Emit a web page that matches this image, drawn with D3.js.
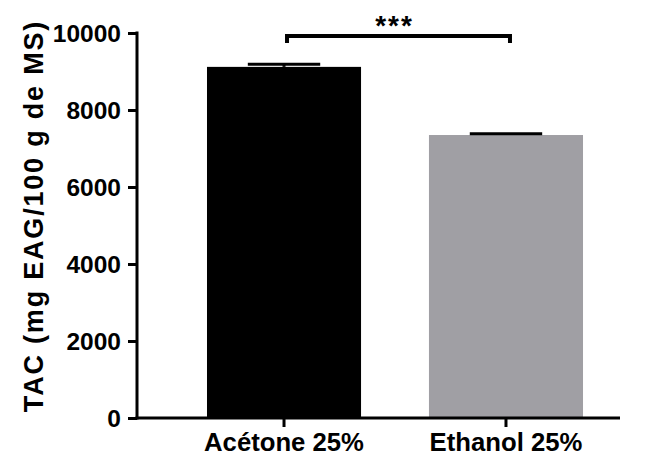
<!DOCTYPE html>
<html>
<head>
<meta charset="utf-8">
<script src="https://cdn.jsdelivr.net/npm/d3@7"></script>
<style>
  body { margin: 0; background: white; }
  text { font-family: "Liberation Sans", Arial, sans-serif; font-weight: bold; }
</style>
</head>
<body>
<script>
// data
var categories = ["Acétone 25%", "Ethanol 25%"];
var means = [9120, 7350];
var errors = [70, 30];
var colors = ["#000000", "#a09fa4"];
var yTicks = [0, 2000, 4000, 6000, 8000, 10000];
var signif = "***";

var width = 645, height = 466;
var margin = {top: 33, right: 25, bottom: 48, left: 137};

var svg = d3.select("body").append("svg")
  .attr("width", width)
  .attr("height", height);

var x = d3.scaleBand()
  .domain(categories)
  .range([162.6, 627.4])
  .paddingInner(0.306)
  .paddingOuter(0.2);

var y = d3.scaleLinear()
  .domain([0, 10000])
  .range([height - margin.bottom, margin.top]);

// bars
svg.selectAll("rect.bar")
  .data(categories)
  .enter().append("rect")
  .attr("class", "bar")
  .attr("x", function (d) { return x(d); })
  .attr("width", x.bandwidth())
  .attr("y", function (d, i) { return y(means[i]); })
  .attr("height", function (d, i) { return y(0) - y(means[i]); })
  .style("fill", function (d, i) { return colors[i]; });

// error bars (upper only)
var capW = x.bandwidth() * 0.47;
categories.forEach(function (c, i) {
  var cx = x(c) + x.bandwidth() / 2;
  svg.append("line")
    .attr("x1", cx).attr("x2", cx)
    .attr("y1", y(means[i])).attr("y2", y(means[i] + errors[i]))
    .style("stroke", "black").style("stroke-width", 3);
  svg.append("line")
    .attr("x1", cx - capW / 2).attr("x2", cx + capW / 2)
    .attr("y1", y(means[i] + errors[i])).attr("y2", y(means[i] + errors[i]))
    .style("stroke", "black").style("stroke-width", 3);
});

// axes
var yAxis = d3.axisLeft(y).tickValues(yTicks).tickSize(9).tickPadding(7).tickFormat(d3.format("d"));
var gy = svg.append("g")
  .attr("transform", "translate(" + margin.left + ",0)")
  .call(yAxis);
gy.select(".domain").attr("d", "M0," + (y(10000) - 1.5) + "V" + (y(0) + 1.5));

var xAxis = d3.axisBottom(x).tickSize(9).tickPadding(6);
var gx = svg.append("g")
  .attr("transform", "translate(0," + y(0) + ")")
  .call(xAxis);
gx.select(".domain").attr("d", "M" + (margin.left - 1.5) + ",0H" + (width - margin.right));

svg.selectAll(".domain, .tick line")
  .style("stroke", "black")
  .style("stroke-width", 3);
svg.selectAll(".tick text")
  .style("fill", "black");
gy.selectAll(".tick text").style("font-size", "24.5px").attr("dy", "0.36em");
gx.selectAll(".tick text").style("font-size", "25.7px");

// y axis title
svg.append("text")
  .attr("transform", "translate(43,216) rotate(-90)")
  .attr("text-anchor", "middle")
  .style("font-size", "27px")
  .style("letter-spacing", "1.8px")
  .text("TAC (mg EAG/100 g de MS)");

// significance bracket
var bx1 = x(categories[0]) + x.bandwidth() / 2 + 3;
var bx2 = x(categories[1]) + x.bandwidth() / 2 + 4;
var by = 36;
svg.append("path")
  .attr("d", "M" + bx1 + "," + (by + 7) + "V" + by + "H" + bx2 + "V" + (by + 7))
  .style("fill", "none")
  .style("stroke", "black")
  .style("stroke-width", 4);
svg.append("text")
  .attr("x", (bx1 + bx2) / 2 - 4)
  .attr("y", 35)
  .attr("text-anchor", "middle")
  .style("font-size", "28px")
  .style("letter-spacing", "2px")
  .text(signif);
</script>
</body>
</html>
